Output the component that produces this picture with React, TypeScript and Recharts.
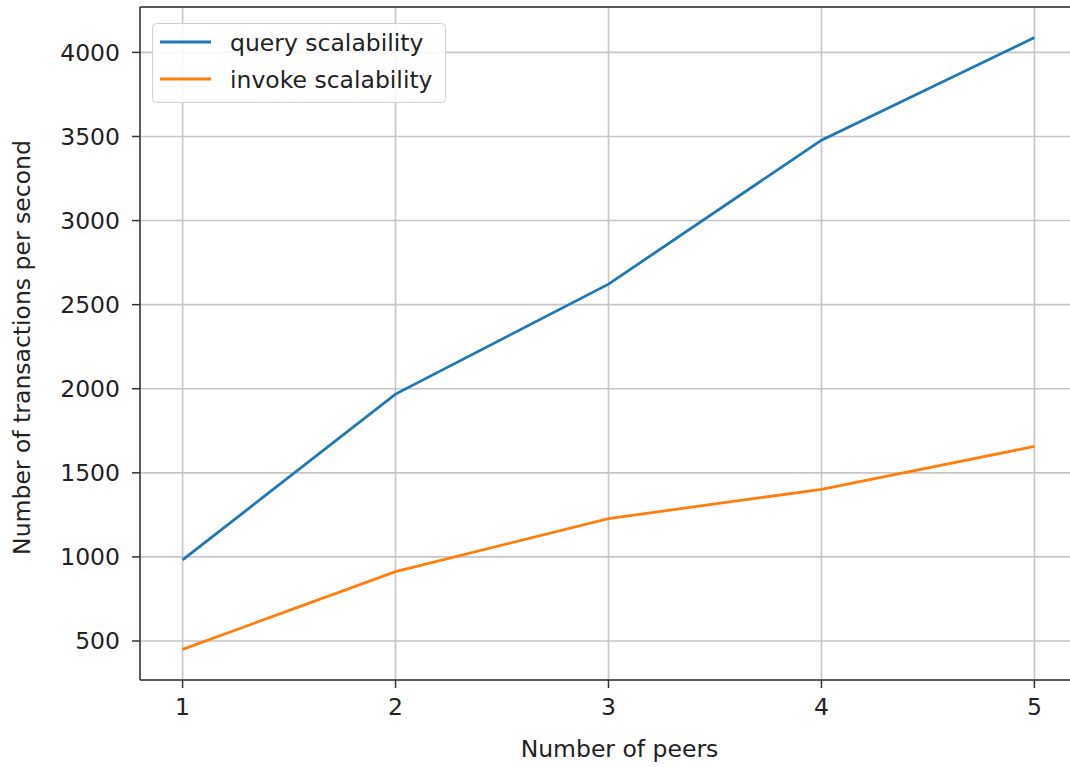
import { CartesianGrid, Line, LineChart, ReferenceLine, XAxis, YAxis } from "recharts";

const peers = [1, 2, 3, 4, 5];
const queryTps = [982, 1968, 2622, 3478, 4088];
const invokeTps = [450, 912, 1228, 1402, 1657];
const yTicks = [500, 1000, 1500, 2000, 2500, 3000, 3500, 4000];

const series = [
  { key: "query", name: "query scalability", color: "#1f77b4" },
  { key: "invoke", name: "invoke scalability", color: "#ff7f0e" }
];

const data = peers.map((p, i) => ({ peers: p, query: queryTps[i], invoke: invokeTps[i] }));

// matplotlib-style 5% margins
const allY = [...queryTps, ...invokeTps];
const yMin = Math.min(...allY);
const yMax = Math.max(...allY);
const yPad = (yMax - yMin) * 0.05;
const yDomain = [yMin - yPad, yMax + yPad];
const xPad = (peers[peers.length - 1] - peers[0]) * 0.05;
const xDomain = [peers[0] - xPad, peers[peers.length - 1] + xPad];

const FONT = "'DejaVu Sans', sans-serif";
const TEXT = "#222";
const SPINE = "#333";
const FS = 23.5;

function LegendBox() {
  return (
    <svg width={294} height={80} style={{ position: "absolute", left: 152, top: 23 }}>
      <rect x={0.5} y={0.5} width={293} height={79} rx={4} fill="rgba(255,255,255,0.85)" stroke="#d0d0d0" />
      {series.map((s, i) => {
        const y = 19 + i * 37;
        return (
          <g key={s.key}>
            <line x1={8} x2={59} y1={y} y2={y} stroke={s.color} strokeWidth={2.8} />
            <text x={78} y={y + 9} fontSize={FS} fontFamily={FONT} fill={TEXT}>
              {s.name}
            </text>
          </g>
        );
      })}
    </svg>
  );
}

export default function App() {
  return (
    <div style={{ position: "absolute", left: 0, top: 0, width: 1070, height: 767, overflow: "hidden", background: "#fff" }}>
      <LineChart width={1077} height={767} data={data} margin={{ top: 7, right: 0, left: 0, bottom: 0 }}>
        <CartesianGrid stroke="#c6c6c6" strokeWidth={1.6} />
        <XAxis
          dataKey="peers"
          type="number"
          domain={xDomain}
          ticks={peers}
          height={87}
          tickSize={8}
          tickMargin={10}
          stroke={SPINE}
          strokeWidth={1.5}
          tick={{ fill: TEXT, fontSize: FS, fontFamily: FONT }}
          label={{
            content: (props: any) => {
              const vb = props.viewBox;
              return (
                <text x={vb.x + vb.width / 2 + 11} y={757} textAnchor="middle" fontSize={FS} fontFamily={FONT} fill={TEXT}>
                  Number of peers
                </text>
              );
            }
          }}
        />
        <YAxis
          type="number"
          domain={yDomain}
          ticks={yTicks}
          width={140}
          tickSize={8}
          tickMargin={12}
          stroke={SPINE}
          strokeWidth={1.5}
          tick={{ fill: TEXT, fontSize: FS, fontFamily: FONT }}
          label={{
            content: (props: any) => {
              const vb = props.viewBox;
              const cy = vb.y + vb.height / 2 + 4;
              return (
                <text
                  x={30}
                  y={cy}
                  transform={`rotate(-90, 30, ${cy})`}
                  textAnchor="middle"
                  fontSize={FS}
                  fontFamily={FONT}
                  fill={TEXT}
                >
                  Number of transactions per second
                </text>
              );
            }
          }}
        />
        <ReferenceLine y={yDomain[1]} stroke={SPINE} strokeWidth={1.5} />
        {series.map((s) => (
          <Line
            key={s.key}
            type="linear"
            dataKey={s.key}
            name={s.name}
            stroke={s.color}
            strokeWidth={2.8}
            dot={false}
            activeDot={false}
            isAnimationActive={false}
          />
        ))}
      </LineChart>
      <LegendBox />
    </div>
  );
}
